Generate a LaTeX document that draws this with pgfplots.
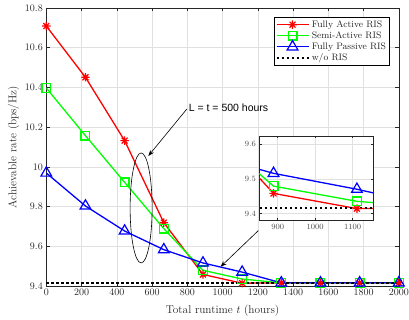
\documentclass[border=0pt]{standalone}
\usepackage{pgfplots}
\pgfplotsset{compat=1.18}
\usepackage{fontspec}
\newfontfamily\arialfont{Liberation Sans}
\usetikzlibrary{arrows.meta}
\definecolor{axcol}{rgb}{0.15,0.15,0.15}
\definecolor{gridcol}{rgb}{0.88,0.88,0.88}
\pgfdeclareplotmark{mstar}{%
  \pgfpathmoveto{\pgfqpoint{0pt}{\pgfplotmarksize}}\pgfpathlineto{\pgfqpoint{0pt}{-\pgfplotmarksize}}%
  \pgfpathmoveto{\pgfqpoint{\pgfplotmarksize}{0pt}}\pgfpathlineto{\pgfqpoint{-\pgfplotmarksize}{0pt}}%
  \pgfpathmoveto{\pgfqpoint{.707\pgfplotmarksize}{.707\pgfplotmarksize}}\pgfpathlineto{\pgfqpoint{-.707\pgfplotmarksize}{-.707\pgfplotmarksize}}%
  \pgfpathmoveto{\pgfqpoint{-.707\pgfplotmarksize}{.707\pgfplotmarksize}}\pgfpathlineto{\pgfqpoint{.707\pgfplotmarksize}{-.707\pgfplotmarksize}}%
  \pgfusepathqstroke}
\pgfplotstableread{
t FA SA FP
0 10.709 10.397 9.969
222.2 10.451 10.157 9.803
444.4 10.132 9.922 9.677
666.7 9.719 9.689 9.583
888.9 9.458 9.479 9.516
1111.1 9.414 9.435 9.470
1333.3 9.416 9.416 9.416
1555.6 9.416 9.416 9.416
1777.8 9.416 9.416 9.416
2000 9.416 9.416 9.416
}\data
\pgfplotstableread{
t W
0 9.416
2000 9.416
}\wo
\pgfplotsset{
  fa/.style={red, line width=1.3pt, mark=mstar, mark size=4.2pt, mark options={solid,line width=1.2pt}},
  sa/.style={green, line width=1.3pt, mark=square, mark size=4.4pt, mark options={solid,line width=1.2pt}},
  fp/.style={blue, line width=1.3pt, mark=triangle, mark size=6.2pt, mark options={solid,line width=1.2pt}},
  wo/.style={black, line width=2.4pt, dash pattern=on 2.4pt off 2.6pt, mark=none},
  matlab/.style={
    scale only axis, anchor=south west,
    axis line style={axcol, line width=0.5pt},
    tick style={axcol, line width=0.5pt},
    major tick length=3.5pt,
    tick align=inside,
    grid=major, grid style={gridcol, line width=0.5pt},
    axis background/.style={fill=white},
    /pgf/number format/1000 sep={},
  }
}
\begin{document}
\begin{tikzpicture}[x=1pt,y=1pt]
\path[use as bounding box] (0,0) rectangle (409,320);
\begin{axis}[matlab,
  at={(46.3pt,34pt)}, width=352.5pt, height=278pt,
  xmin=0, xmax=2000, ymin=9.4, ymax=10.8,
  xtick={0,200,400,600,800,1000,1200,1400,1600,1800,2000},
  ytick={9.4,9.6,9.8,10,10.2,10.4,10.6,10.8},
  ticklabel style={font=\fontsize{10.3}{12}\selectfont, color=axcol},
  xlabel={Total runtime $t$ (hours)},
  ylabel={Achievable rate (bps/Hz)},
  label style={font=\fontsize{11.3}{13}\selectfont, color=axcol},
  xlabel style={yshift=-2pt},
  ylabel style={yshift=-1pt},
  legend style={at={(axis description cs:1,1)}, anchor=north east, xshift=-9.5pt, yshift=-9.3pt,
    font=\fontsize{9.4}{11}\selectfont, draw=black, line width=0.5pt, inner sep=1pt, row sep=-1.2pt,
    cells={anchor=west}, text=axcol},
  legend image code/.code={\draw[mark repeat=2,mark phase=2,#1] plot coordinates {(0pt,0pt) (16pt,0pt) (32pt,0pt)};},
]
\addplot[fa] table[x=t,y=FA] {\data};
\addlegendentry{Fully Active RIS}
\addplot[sa] table[x=t,y=SA] {\data};
\addlegendentry{Semi-Active RIS}
\addplot[fp] table[x=t,y=FP] {\data};
\addlegendentry{Fully Passive RIS}
\addplot[wo] table[x=t,y=W] {\wo};
\addlegendentry{w/o RIS}
\draw[black, line width=0.6pt] (axis cs:538,9.793) ellipse [x radius=11pt, y radius=55pt];
\draw[black, line width=0.6pt, -{Stealth[length=6pt,width=4.5pt]}] (axis cs:797,10.291) -- (axis cs:579,10.055);
\draw[black, line width=0.6pt, -{Stealth[length=6pt,width=4.5pt]}] (axis cs:1203,9.679) -- (axis cs:989,9.497);
\node[font=\arialfont\fontsize{10.5}{12}\selectfont, text=black, inner sep=0pt] at (axis cs:1034,10.296) {L = t = 500 hours};
\end{axis}
\begin{axis}[matlab,
  at={(259.3pt,99.3pt)}, width=113.7pt, height=84.7pt,
  xmin=851, xmax=1154, ymin=9.379, ymax=9.624,
  xtick={900,1000,1100}, ytick={9.4,9.5,9.6},
  major tick length=2.5pt,
  ticklabel style={font=\fontsize{8}{9}\selectfont, color=black!70},
  yticklabel style={/pgf/number format/.cd, fixed, precision=1, fixed zerofill},
]
\addplot[fa] table[x=t,y=FA] {\data};
\addplot[sa] table[x=t,y=SA] {\data};
\addplot[fp] table[x=t,y=FP] {\data};
\addplot[wo] table[x=t,y=W] {\wo};
\end{axis}
\end{tikzpicture}
\end{document}
